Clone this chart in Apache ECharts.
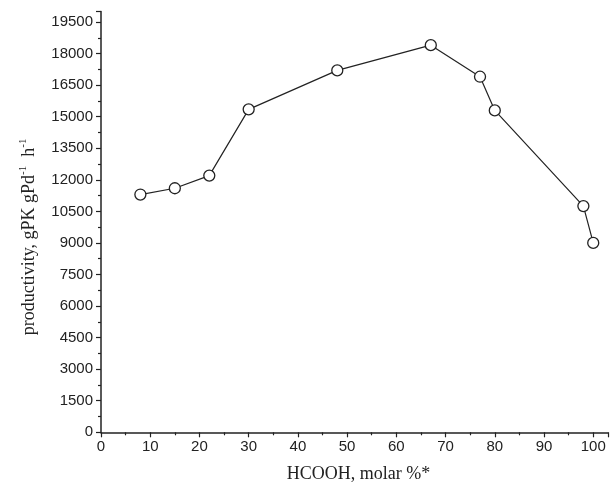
<!DOCTYPE html>
<html>
<head>
<meta charset="utf-8">
<script src="https://cdn.jsdelivr.net/npm/echarts@6/dist/echarts.min.js"></script>
<style>
  html, body { margin: 0; padding: 0; background: #fff; }
  #chart { width: 611px; height: 490px; }
</style>
</head>
<body>
<div id="chart"></div>
<script>
// HCOOH molar % and productivity
var hcooh = [8, 15, 22, 30, 48, 67, 77, 80, 98, 100]
var productivity = [11300, 11600, 12200, 15350, 17200, 18400, 16900, 15300, 10750, 9000]

var ink = '#222'
var chart = echarts.init(document.getElementById('chart'))

var option = {
  animation: false,
  grid: { left: 101, right: 3, top: 11.5, bottom: 57.7 },
  xAxis: {
    type: 'value',
    min: 0,
    max: 103,
    interval: 10,
    name: 'HCOOH, molar %*',
    nameLocation: 'middle',
    nameGap: 33,
    nameTextStyle: { fontFamily: 'Liberation Serif', fontSize: 18, color: ink, padding: [0, 0, 0, 8] },
    axisLine: { onZero: false, lineStyle: { color: ink, width: 1.5 } },
    axisTick: { length: 5, lineStyle: { color: ink, width: 1.2 } },
    minorTick: { show: true, splitNumber: 2, length: 3, lineStyle: { color: ink, width: 1.2 } },
    axisLabel: { fontFamily: 'Liberation Sans', fontSize: 15, color: ink, margin: 7, showMaxLabel: false },
    splitLine: { show: false }
  },
  yAxis: {
    type: 'value',
    min: 0,
    max: 20000,
    interval: 1500,
    name: '{a|productivity, gPK gPd}{s|-1}{a|  h}{s|-1}',
    nameLocation: 'middle',
    nameGap: 61,
    nameTextStyle: {
      color: ink,
      padding: [0, 30, 0, 0],
      rich: {
        a: { fontFamily: 'Liberation Serif', fontSize: 18, color: ink, lineHeight: 22 },
        s: { fontFamily: 'Liberation Serif', fontSize: 11, color: ink, verticalAlign: 'top', lineHeight: 22 }
      }
    },
    axisLine: { show: true, lineStyle: { color: ink, width: 1.5 } },
    axisTick: { length: 5, lineStyle: { color: ink, width: 1.2 } },
    minorTick: { show: true, splitNumber: 2, length: 3, lineStyle: { color: ink, width: 1.2 } },
    axisLabel: {
      fontFamily: 'Liberation Sans', fontSize: 15, color: ink, margin: 8,
      formatter: function (v) { return String(v) }
    },
    splitLine: { show: false }
  },
  series: [{
    type: 'line',
    data: hcooh.map(function (x, i) { return [x, productivity[i]] }),
    symbol: 'circle',
    symbolSize: 11,
    lineStyle: { color: ink, width: 1.2 },
    itemStyle: { color: '#fff', borderColor: ink, borderWidth: 1.3 },
    z: 3
  }]
}

chart.setOption(option)
</script>
</body>
</html>
